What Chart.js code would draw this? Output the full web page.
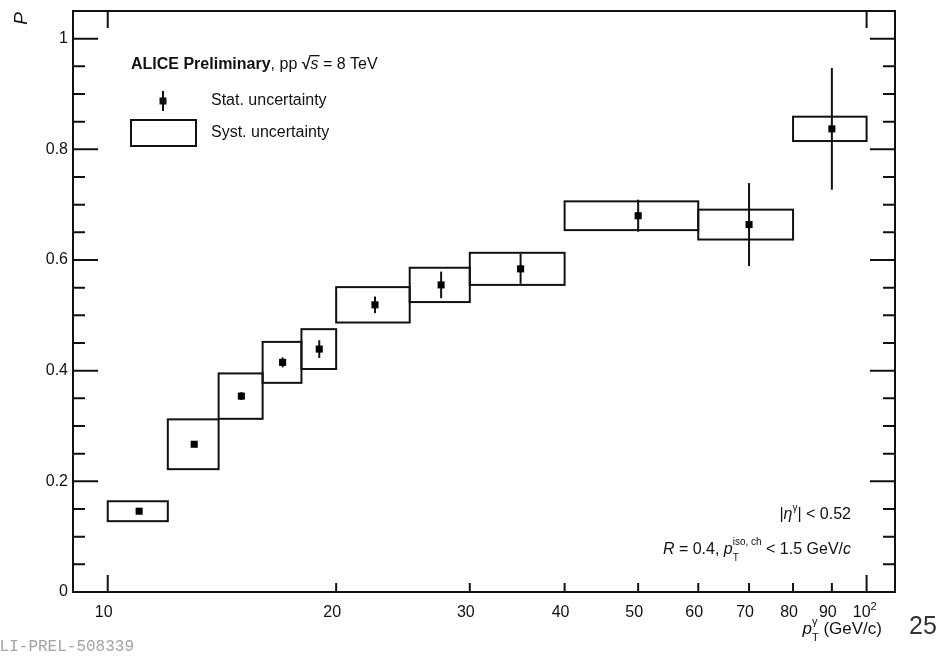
<!DOCTYPE html>
<html>
<head>
<meta charset="utf-8">
<script src="https://cdn.jsdelivr.net/npm/chart.js@4.4.1/dist/chart.umd.min.js"></script>
<style>
  body { margin: 0; background: #fff; }
  canvas { display: block; }
</style>
</head>
<body>
<canvas id="purity-chart" width="944" height="657"></canvas>
<script>
// pT bins (GeV/c)
var ptLow = [10, 12, 14, 16, 18, 20, 25, 30, 40, 60, 80];
var ptHigh = [12, 14, 16, 18, 20, 25, 30, 40, 60, 80, 100];
var ptCenter = [11, 13, 15, 17, 19, 22.5, 27.5, 35, 50, 70, 90];

// purity and uncertainties
var purity = [0.146, 0.267, 0.354, 0.415, 0.439, 0.519, 0.555, 0.584, 0.680, 0.664, 0.837];
var statErr = [0.004, 0.005, 0.007, 0.009, 0.016, 0.015, 0.024, 0.027, 0.029, 0.075, 0.110];
var systErr = [0.018, 0.045, 0.041, 0.037, 0.036, 0.032, 0.031, 0.029, 0.026, 0.027, 0.022];

// axis ticks
var yMajorTicks = [0, 0.2, 0.4, 0.6, 0.8, 1];
var yTickLabels = ["0", "0.2", "0.4", "0.6", "0.8", "1"];
var xTicks = [10, 20, 30, 40, 50, 60, 70, 80, 90, 100];
var xTickLabels = ["10", "20", "30", "40", "50", "60", "70", "80", "90", "10^2"];

var FONT = "'Liberation Sans', Arial, sans-serif";

// draw a list of text runs; each run: {t, f (font), dy, stackWith, overbar}
function runsWidth(ctx, runs) {
    var w = 0;
    runs.forEach(function (r) {
        ctx.font = r.f;
        var rw = ctx.measureText(r.t).width;
        if (r.stackWith) {
            ctx.font = r.stackWith.f;
            rw = Math.max(rw, ctx.measureText(r.stackWith.t).width);
        }
        w += rw;
    });
    return w;
}

function drawRuns(ctx, runs, x, y, align) {
    if (align === 'right') x -= runsWidth(ctx, runs);
    ctx.textAlign = 'left';
    ctx.textBaseline = 'alphabetic';
    runs.forEach(function (r) {
        ctx.font = r.f;
        ctx.fillText(r.t, x, y + (r.dy || 0));
        var rw = ctx.measureText(r.t).width;
        if (r.stackWith) {
            ctx.font = r.stackWith.f;
            ctx.fillText(r.stackWith.t, x, y + r.stackWith.dy);
            rw = Math.max(rw, ctx.measureText(r.stackWith.t).width);
        }
        if (r.overbar) {
            ctx.fillRect(x - 1, y - 14, rw + 2, 1.3);
        }
        x += rw;
    });
}

var rootStyle = {
    id: 'rootStyle',
    beforeDatasetsDraw: function (chart) {
        var ctx = chart.ctx, x = chart.scales.x, y = chart.scales.y;
        ctx.save();
        ctx.strokeStyle = '#111';
        ctx.lineWidth = 2;
        // systematic boxes
        for (var i = 0; i < purity.length; i++) {
            var x0 = x.getPixelForValue(ptLow[i]);
            var x1 = x.getPixelForValue(ptHigh[i]);
            var y0 = y.getPixelForValue(purity[i] + systErr[i]);
            var y1 = y.getPixelForValue(purity[i] - systErr[i]);
            ctx.strokeRect(x0, y0, x1 - x0, y1 - y0);
        }
        // statistical bars
        for (var j = 0; j < purity.length; j++) {
            var xc = x.getPixelForValue(ptCenter[j]);
            ctx.beginPath();
            ctx.moveTo(xc, y.getPixelForValue(purity[j] + statErr[j]));
            ctx.lineTo(xc, y.getPixelForValue(purity[j] - statErr[j]));
            ctx.stroke();
        }
        ctx.restore();
    },
    afterDraw: function (chart) {
        var ctx = chart.ctx, a = chart.chartArea, x = chart.scales.x, y = chart.scales.y;
        ctx.save();
        ctx.strokeStyle = '#111';
        ctx.fillStyle = '#111';
        ctx.lineWidth = 2;

        // frame
        ctx.strokeRect(a.left, a.top, a.right - a.left, a.bottom - a.top);

        // y ticks: minor every 0.05, major every 0.2
        ctx.beginPath();
        for (var v = 0; v <= 1.0001; v += 0.05) {
            var py = y.getPixelForValue(v);
            var isMajor = Math.abs(v / 0.2 - Math.round(v / 0.2)) < 1e-6;
            var len = isMajor ? 25 : 12;
            ctx.moveTo(a.left, py); ctx.lineTo(a.left + len, py);
            ctx.moveTo(a.right, py); ctx.lineTo(a.right - len, py);
        }
        // x ticks
        xTicks.forEach(function (t) {
            var px = x.getPixelForValue(t);
            var decade = (t === 10 || t === 100);
            var len = decade ? 17 : 9;
            ctx.moveTo(px, a.bottom); ctx.lineTo(px, a.bottom - len);
            if (decade) { ctx.moveTo(px, a.top); ctx.lineTo(px, a.top + len); }
        });
        ctx.stroke();

        // y tick labels
        ctx.font = '16px ' + FONT;
        ctx.textAlign = 'right';
        ctx.textBaseline = 'middle';
        yMajorTicks.forEach(function (t, i) {
            ctx.fillText(yTickLabels[i], a.left - 5, y.getPixelForValue(t));
        });
        // x tick labels
        ctx.textAlign = 'center';
        ctx.textBaseline = 'top';
        xTicks.forEach(function (t, i) {
            var px = x.getPixelForValue(t);
            var lab = xTickLabels[i];
            if (lab.indexOf('^') > 0) {
                ctx.font = '16px ' + FONT;
                ctx.textAlign = 'right';
                ctx.fillText('10', px + 4, a.bottom + 13);
                ctx.font = '11px ' + FONT;
                ctx.textAlign = 'left';
                ctx.fillText('2', px + 4, a.bottom + 9);
                ctx.textAlign = 'center';
            } else {
                ctx.font = '16px ' + FONT;
                ctx.fillText(lab, px - 4, a.bottom + 13);
            }
        });

        // y axis title
        ctx.save();
        ctx.translate(27, 12);
        ctx.rotate(-Math.PI / 2);
        ctx.font = 'italic 19px ' + FONT;
        ctx.textAlign = 'right';
        ctx.textBaseline = 'alphabetic';
        ctx.fillText('P', 0, 0);
        ctx.restore();

        // x axis title
        var reg = '17px ' + FONT, ital = 'italic 17px ' + FONT, small = '11px ' + FONT;
        drawRuns(ctx, [
            { t: 'p', f: ital },
            { t: 'T', f: small, dy: 7, stackWith: { t: 'γ', f: small, dy: -9 } },
            { t: ' (GeV/c)', f: reg }
        ], a.right - 13, a.bottom + 42, 'right');

        // legend block
        var lx = a.left + 58;
        drawRuns(ctx, [
            { t: 'ALICE Preliminary', f: 'bold 16px ' + FONT },
            { t: ', pp ', f: '16px ' + FONT },
            { t: '√', f: 'bold 16px ' + FONT },
            { t: 's', f: 'italic 16px ' + FONT, overbar: true },
            { t: ' = 8 TeV', f: '16px ' + FONT }
        ], lx, 69);

        // stat marker sample
        var mx = a.left + 90, my = 101;
        ctx.lineWidth = 2;
        ctx.beginPath(); ctx.moveTo(mx, my - 10); ctx.lineTo(mx, my + 10); ctx.stroke();
        ctx.fillRect(mx - 3.5, my - 3.5, 7, 7);
        ctx.font = '16px ' + FONT;
        ctx.textAlign = 'left';
        ctx.textBaseline = 'middle';
        ctx.fillText('Stat. uncertainty', a.left + 138, my);
        // syst box sample
        ctx.strokeRect(a.left + 58, 120, 65, 26);
        ctx.fillText('Syst. uncertainty', a.left + 138, 133);

        // selection text
        var f16 = '16px ' + FONT, i16 = 'italic 16px ' + FONT, s10 = '10px ' + FONT;
        drawRuns(ctx, [
            { t: '|', f: f16 },
            { t: 'η', f: i16 },
            { t: 'γ', f: s10, dy: -8 },
            { t: '| < 0.52', f: f16 }
        ], a.right - 44, 519, 'right');
        drawRuns(ctx, [
            { t: 'R', f: i16 },
            { t: ' = 0.4, ', f: f16 },
            { t: 'p', f: i16 },
            { t: 'T', f: s10, dy: 7, stackWith: { t: 'iso, ch', f: s10, dy: -9 } },
            { t: ' < 1.5 GeV/', f: f16 },
            { t: 'c', f: i16 }
        ], a.right - 44, 554, 'right');

        // slide page number
        ctx.font = '25px ' + FONT;
        ctx.fillStyle = '#333';
        ctx.textAlign = 'left';
        ctx.textBaseline = 'alphabetic';
        ctx.fillText('25', 909, 634);

        // figure id (cut at left border)
        ctx.font = '16px "Liberation Mono", "DejaVu Sans Mono", monospace';
        ctx.fillStyle = '#a4a4a4';
        ctx.fillText('ALI-PREL-508339', -10, 651);
        ctx.restore();
    }
};

var points = ptCenter.map(function (v, i) { return { x: v, y: purity[i] }; });

var purityChart = new Chart(document.getElementById('purity-chart'), {
    type: 'scatter',
    data: {
        datasets: [{
            label: 'Purity',
            data: points,
            pointStyle: 'rect',
            pointRadius: 5,
            pointHoverRadius: 5,
            backgroundColor: '#000',
            borderWidth: 0
        }]
    },
    options: {
        responsive: false,
        animation: false,
        layout: { padding: { left: 73, right: 49, top: 11, bottom: 65 } },
        plugins: {
            legend: { display: false },
            tooltip: { enabled: false }
        },
        scales: {
            x: { type: 'logarithmic', min: 9, max: 109, display: false },
            y: { type: 'linear', min: 0, max: 1.05, display: false }
        }
    },
    plugins: [rootStyle]
});
</script>
</body>
</html>
